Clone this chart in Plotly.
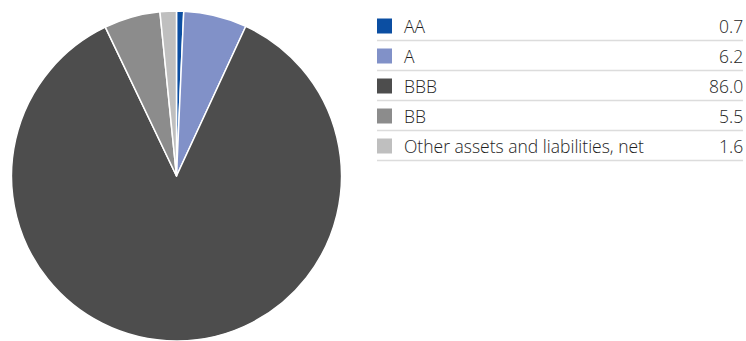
import plotly.graph_objects as go

categories = ["AA", "A", "BBB", "BB", "Other assets and liabilities, net"]
values = [0.7, 6.2, 86.0, 5.5, 1.6]
value_labels = ["0.7", "6.2", "86.0", "5.5", "1.6"]
colors = ["#0b4ea2", "#8191c8", "#4d4d4d", "#8c8c8c", "#bfbfbf"]

W, H = 746, 341

fig = go.Figure()
fig.add_trace(go.Pie(
    labels=categories,
    values=values,
    sort=False,
    direction="clockwise",
    rotation=0,
    marker=dict(colors=colors, line=dict(color="white", width=1.5)),
    textinfo="none",
    hoverinfo="label+value",
    showlegend=False,
    domain=dict(x=[11 / W, 342 / W], y=[0, 1 - 11 / H]),
))

def px(x):
    return x / W

def py(y):
    return 1 - y / H

row0 = 26
step = 30
shapes = []
annotations = []
font = dict(family="Open Sans, sans-serif", size=17.5, color="#1e1e1e", weight=300)
for i, (cat, lab, col) in enumerate(zip(categories, value_labels, colors)):
    cy = row0 + i * step
    shapes.append(dict(type="rect", xref="paper", yref="paper",
                       x0=px(377), x1=px(392), y0=py(cy + 7.5), y1=py(cy - 7.5),
                       fillcolor=col, line=dict(width=0)))
    shapes.append(dict(type="line", xref="paper", yref="paper",
                       x0=px(377), x1=px(743), y0=py(cy + 14.5), y1=py(cy + 14.5),
                       line=dict(color="#dcdcdc", width=1.5)))
    annotations.append(dict(x=px(402), y=py(cy), xref="paper", yref="paper",
                            text=cat, showarrow=False, xanchor="left", yanchor="middle",
                            font=font))
    annotations.append(dict(x=px(745), y=py(cy), xref="paper", yref="paper",
                            text=lab, showarrow=False, xanchor="right", yanchor="middle",
                            font=font))

fig.update_layout(
    width=W, height=H,
    margin=dict(l=0, r=0, t=0, b=0),
    paper_bgcolor="white",
    plot_bgcolor="white",
    shapes=shapes,
    annotations=annotations,
)

fig.write_html("out.html")
